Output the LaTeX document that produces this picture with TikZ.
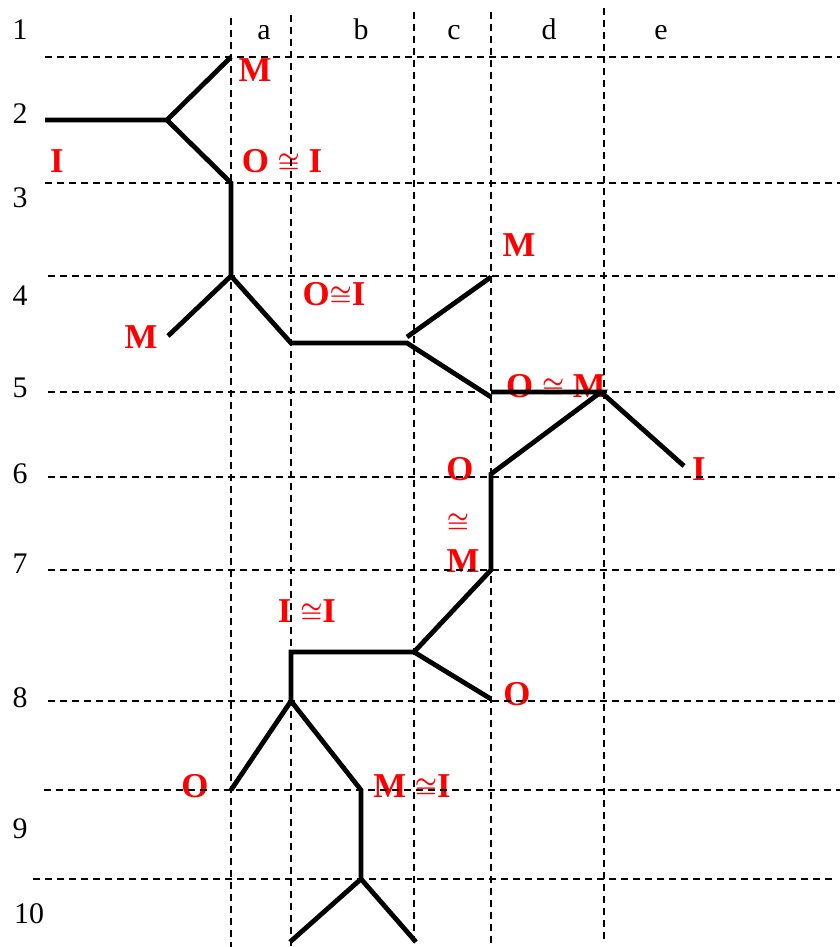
\documentclass[tikz,border=0pt]{standalone}
\usepackage{fontspec}
\setmainfont{Liberation Serif}
\begin{document}
\begin{tikzpicture}[x=1bp,y=-1bp,
  gridline/.style={line width=1.4bp,dash pattern=on 7bp off 5bp},
  bond/.style={line width=4.8bp,line join=miter},
  axislbl/.style={font=\fontsize{30}{30}\selectfont,anchor=base,inner sep=0pt},
  redlbl/.style={font=\fontsize{35}{35}\selectfont\bfseries\boldmath,text=red,anchor=base,inner sep=0pt}]
\useasboundingbox (0,0) rectangle (840,947);
% axis labels
\node[axislbl] (r1) at (20,39) {1};
\node[axislbl] (r2) at (20,123) {2};
\node[axislbl] (r3) at (20,207) {3};
\node[axislbl] (r4) at (20,305) {4};
\node[axislbl] (r5) at (20,397) {5};
\node[axislbl] (r6) at (20,483) {6};
\node[axislbl] (r7) at (20,573) {7};
\node[axislbl] (r8) at (20,707) {8};
\node[axislbl] (r9) at (20,838) {9};
\node[axislbl] (r10) at (29,923) {10};
\node[axislbl] (ca) at (264,39) {a};
\node[axislbl] (cb) at (361,39) {b};
\node[axislbl] (cc) at (454,39) {c};
\node[axislbl] (cd) at (549,39) {d};
\node[axislbl] (ce) at (661,39) {e};
% red labels
\node[redlbl] (l1) at (255,81) {M};
\node[redlbl] (l2) at (57,172) {I};
\node[redlbl] (l3) at (282,172) {O $\cong$ I};
\node[redlbl] (l4) at (334,305) {O$\cong$I};
\node[redlbl] (l5) at (141,348) {M};
\node[redlbl] (l6) at (519,256) {M};
\node[redlbl] (l7) at (556,397) {O $\cong$ M};
\node[redlbl] (l8) at (460,480) {O};
\node[redlbl] (l9) at (699,480) {I};
\node[redlbl,anchor=center] (l10) at (458,523) {$\cong$};
\node[redlbl] (l11) at (463,572) {M};
\node[redlbl] (l12) at (517,705) {O};
\node[redlbl] (l13) at (307,622) {I $\cong$I};
\node[redlbl] (l14) at (195,797) {O};
\node[redlbl] (l15) at (412,797) {M $\cong$I};
% grid
\coordinate (h1a) at (45,57);  \coordinate (h1b) at (840,57);
\coordinate (h2a) at (45,183); \coordinate (h2b) at (840,183);
\coordinate (h3a) at (48,276); \coordinate (h3b) at (840,276);
\coordinate (h4a) at (48,392); \coordinate (h4b) at (840,392);
\coordinate (h5a) at (48,477); \coordinate (h5b) at (840,477);
\coordinate (h6a) at (48,570); \coordinate (h6b) at (840,570);
\coordinate (h7a) at (48,701); \coordinate (h7b) at (840,701);
\coordinate (h8a) at (44,790); \coordinate (h8b) at (840,790);
\coordinate (h9a) at (33,879); \coordinate (h9b) at (832,879);
\coordinate (v1a) at (231,18); \coordinate (v1b) at (231,947);
\coordinate (v2a) at (291,15); \coordinate (v2b) at (291,947);
\coordinate (v3a) at (414,12); \coordinate (v3b) at (414,947);
\coordinate (v4a) at (491,12); \coordinate (v4b) at (491,947);
\coordinate (v5a) at (604,8);  \coordinate (v5b) at (604,940);
\foreach \g in {h1,h2,h3,h4,h5,h6,h7,h8,h9,v1,v2,v3,v4,v5}
  \draw[gridline] (\g a) -- (\g b);
% structure points
\coordinate (p0) at (45,120);
\coordinate (p1) at (167,120);
\coordinate (p2) at (231,57);
\coordinate (p3) at (231,183);
\coordinate (p4) at (231,276);
\coordinate (p5) at (168,336);
\coordinate (p6) at (291,343);
\coordinate (p7) at (407,343);
\coordinate (p7u) at (407,337);
\coordinate (p8) at (491,277);
\coordinate (p9) at (491,397);
\coordinate (p10) at (491,392);
\coordinate (p11) at (601,392);
\coordinate (p12) at (491,474);
\coordinate (p13) at (684,466);
\coordinate (p14) at (491,570);
\coordinate (p15) at (414,652);
\coordinate (p16) at (491,699);
\coordinate (p17) at (291,652);
\coordinate (p18) at (291,701);
\coordinate (p19) at (231,790);
\coordinate (p20) at (361,790);
\coordinate (p21) at (361,879);
\coordinate (p22) at (290,942);
\coordinate (p23) at (416,942);
% bonds
\draw[bond] (p0) -- (p1) -- (p2);
\draw[bond] (p1) -- (p3) -- (p4) -- (p5);
\draw[bond] (p4) -- (p6) -- (p7) -- (p9);
\draw[bond] (p7u) -- (p8);
\draw[bond] (p10) -- (p11) -- (p12) -- (p14) -- (p15) -- (p16);
\draw[bond] (p11) -- (p13);
\draw[bond] (p15) -- (p17) -- (p18) -- (p19);
\draw[bond] (p18) -- (p20) -- (p21) -- (p22);
\draw[bond] (p21) -- (p23);
\end{tikzpicture}
\end{document}
